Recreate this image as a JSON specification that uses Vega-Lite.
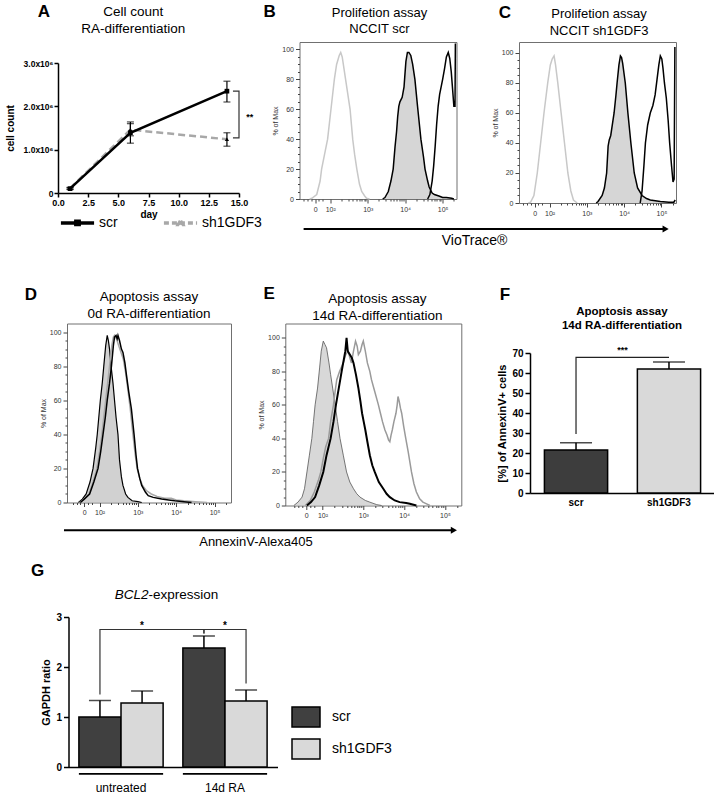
{
"$schema": "https://vega.github.io/schema/vega-lite/v6.json",
"padding": {"left": 0, "top": 2, "right": 0, "bottom": 0},
"config": {
  "font": "Liberation Sans",
  "view": {"stroke": null},
  "axis": {"grid": false, "domainColor": "black", "tickColor": "black", "labelColor": "black", "titleColor": "black"},
  "text": {"color": "black"}
},
"resolve": {"scale": {"color": "independent", "shape": "independent", "strokeDash": "independent"}},
"spacing": 12,
"vconcat": [
{
"resolve": {"scale": {"color": "independent", "shape": "independent", "strokeDash": "independent"}},
"spacing": 36.5,
"vconcat": [
{
"spacing": 4,
"hconcat": [
{"width": 1, "height": 1, "data": {"values": [{}]}, "mark": {"type": "rect", "opacity": 0}},
{
"spacing": 8.5,
"hconcat": [
{
"spacing": 2,
"vconcat": [
{
 "width": 181, "height": 15,
 "layer": [
  {"data": {"values": [{"label": "A", "day": -1.16, "hy": 3.0}]}, "mark": {"type": "text", "fontSize": 17, "fontWeight": "bold"},
   "encoding": {"x": {"field": "day", "type": "quantitative", "scale": {"domain": [0, 15], "nice": false}, "axis": null}, "y": {"field": "hy", "type": "quantitative", "scale": {"domain": [0, 1], "nice": false}, "axis": null}, "text": {"field": "label"}}},
  {"data": {"values": [{"label": "Cell count", "day": 6.24, "hy": 3.0}, {"label": "RA-differentiation", "day": 6.24, "hy": 1.867}]}, "mark": {"type": "text", "fontSize": 13.5},
   "encoding": {"x": {"field": "day", "type": "quantitative", "scale": {"domain": [0, 15], "nice": false}, "axis": null}, "y": {"field": "hy", "type": "quantitative", "scale": {"domain": [0, 1], "nice": false}, "axis": null}, "text": {"field": "label"}}}
 ]
},
{
 "width": 181, "height": 130,
 "data": {"values": [
  {"series": "scr", "day": 1, "count": 100000, "lo": 80000, "hi": 120000},
  {"series": "scr", "day": 6, "count": 1390000, "lo": 1150000, "hi": 1640000},
  {"series": "scr", "day": 14, "count": 2350000, "lo": 2100000, "hi": 2580000},
  {"series": "sh1GDF3", "day": 1, "count": 110000, "lo": 90000, "hi": 130000},
  {"series": "sh1GDF3", "day": 6, "count": 1460000, "lo": 1320000, "hi": 1600000},
  {"series": "sh1GDF3", "day": 14, "count": 1240000, "lo": 1080000, "hi": 1390000}
 ]},
 "encoding": {
  "x": {"field": "day", "type": "quantitative", "scale": {"domain": [0, 15], "nice": false},
        "axis": {"title": "day", "titleFontSize": 10, "titleFontWeight": "bold", "titlePadding": 2, "values": [0, 2.5, 5, 7.5, 10, 12.5, 15], "format": ".1f", "labelFontSize": 9, "labelFontWeight": "bold", "labelFlush": false, "domainWidth": 1.5, "tickWidth": 1.5, "tickSize": 4, "labelPadding": 1}},
  "y": {"field": "count", "type": "quantitative", "scale": {"domain": [0, 3000000], "nice": false},
        "axis": {"title": "cell count", "titleFontSize": 10, "titleFontWeight": "bold", "titlePadding": 8, "values": [0, 1000000, 2000000, 3000000], "labelExpr": "datum.value == 0 ? '0' : format(datum.value / 1000000, '.1f') + 'x10⁶'", "labelFontSize": 8.5, "labelFontWeight": "bold", "domainWidth": 1.5, "tickWidth": 1.5, "tickSize": 4, "labelPadding": 1}}
 },
 "layer": [
  {"transform": [{"filter": "datum.series == 'sh1GDF3'"}], "mark": {"type": "line", "color": "#a8a8a8", "strokeWidth": 2.5, "strokeDash": [7, 4]}},
  {"transform": [{"filter": "datum.series == 'scr'"}], "mark": {"type": "line", "color": "black", "strokeWidth": 2.5}},
  {"mark": {"type": "rule", "color": "black", "strokeWidth": 1.2}, "encoding": {"y": {"field": "lo", "type": "quantitative"}, "y2": {"field": "hi"}}},
  {"mark": {"type": "tick", "orient": "horizontal", "color": "black", "size": 7, "thickness": 1.2}, "encoding": {"y": {"field": "lo", "type": "quantitative"}}},
  {"mark": {"type": "tick", "orient": "horizontal", "color": "black", "size": 7, "thickness": 1.2}, "encoding": {"y": {"field": "hi", "type": "quantitative"}}},
  {"transform": [{"filter": "datum.series == 'scr'"}], "mark": {"type": "point", "shape": "square", "filled": true, "color": "black", "size": 22, "opacity": 1}},
  {"transform": [{"filter": "datum.series == 'sh1GDF3'"}], "mark": {"type": "point", "shape": "triangle-up", "filled": true, "color": "black", "size": 18, "opacity": 1}},
  {"mark": {"type": "point", "filled": false, "opacity": 0},
   "encoding": {
    "shape": {"field": "series", "type": "nominal", "scale": {"domain": ["scr", "sh1GDF3"], "range": ["M-1,0H1M-0.1,-0.1H0.1V0.1H-0.1Z", "M-1,0H1M0,-0.13L0.13,0.1H-0.13Z"]},
      "legend": {"title": null, "orient": "none", "legendX": 59, "legendY": 162, "direction": "horizontal", "columns": 2, "columnPadding": 38, "symbolSize": 1100, "symbolStrokeWidth": 3.5, "labelFontSize": 14, "labelOffset": 3, "symbolOpacity": 1, "symbolFillColor": "black", "encode": {"symbols": {"update": {"fill": {"value": "black"}, "opacity": {"value": 1}, "strokeWidth": {"value": 3.5}}}}}},
    "color": {"field": "series", "type": "nominal", "scale": {"domain": ["scr", "sh1GDF3"], "range": ["black", "#a8a8a8"]},
      "legend": {"title": null, "orient": "none", "legendX": 59, "legendY": 162, "direction": "horizontal", "columns": 2, "columnPadding": 38, "symbolSize": 1100, "symbolStrokeWidth": 3.5, "labelFontSize": 14, "labelOffset": 3, "symbolOpacity": 1, "symbolFillColor": "black", "encode": {"symbols": {"update": {"fill": {"value": "black"}, "opacity": {"value": 1}, "strokeWidth": {"value": 3.5}}}}}},
    "strokeDash": {"field": "series", "type": "nominal", "scale": {"domain": ["scr", "sh1GDF3"], "range": [[1, 0], [5, 3]]},
      "legend": {"title": null, "orient": "none", "legendX": 59, "legendY": 162, "direction": "horizontal", "columns": 2, "columnPadding": 38, "symbolSize": 1100, "symbolStrokeWidth": 3.5, "labelFontSize": 14, "labelOffset": 3, "symbolOpacity": 1, "symbolFillColor": "black", "encode": {"symbols": {"update": {"fill": {"value": "black"}, "opacity": {"value": 1}, "strokeWidth": {"value": 3.5}}}}}}
   }},
  {"data": {"values": [{"seg": 1, "day": 14.5, "count": 2350000}, {"seg": 2, "day": 15, "count": 2350000}, {"seg": 3, "day": 15, "count": 1270000}, {"seg": 4, "day": 14.5, "count": 1270000}]},
   "mark": {"type": "line", "color": "#333", "strokeWidth": 1.2}, "encoding": {"order": {"field": "seg"}}},
  {"data": {"values": [{"label": "**", "day": 15.6, "count": 1760000}]}, "mark": {"type": "text", "align": "left", "baseline": "middle", "fontSize": 9, "fontWeight": "bold"}, "encoding": {"text": {"field": "label"}}}
 ]
}
]
},
{
"spacing": 6,
"vconcat": [
{
"spacing": 30.5,
"hconcat": [
{
 "width": 157, "height": 157,
 "view": {"stroke": "#707070", "strokeWidth": 1},
 "data": {"values": [
  {"curve": "control", "fl": 1.45, "pct": 0}, {"curve": "control", "fl": 1.51, "pct": 0.5}, {"curve": "control", "fl": 1.64, "pct": 3}, {"curve": "control", "fl": 1.73, "pct": 12}, {"curve": "control", "fl": 1.77, "pct": 20}, {"curve": "control", "fl": 1.85, "pct": 30}, {"curve": "control", "fl": 1.93, "pct": 40}, {"curve": "control", "fl": 2.02, "pct": 60}, {"curve": "control", "fl": 2.11, "pct": 80}, {"curve": "control", "fl": 2.17, "pct": 90}, {"curve": "control", "fl": 2.24, "pct": 96}, {"curve": "control", "fl": 2.28, "pct": 98}, {"curve": "control", "fl": 2.32, "pct": 95}, {"curve": "control", "fl": 2.35, "pct": 90}, {"curve": "control", "fl": 2.41, "pct": 80}, {"curve": "control", "fl": 2.47, "pct": 70}, {"curve": "control", "fl": 2.53, "pct": 60}, {"curve": "control", "fl": 2.6, "pct": 40}, {"curve": "control", "fl": 2.65, "pct": 30}, {"curve": "control", "fl": 2.71, "pct": 20}, {"curve": "control", "fl": 2.78, "pct": 10}, {"curve": "control", "fl": 2.84, "pct": 5}, {"curve": "control", "fl": 2.92, "pct": 2}, {"curve": "control", "fl": 2.97, "pct": 0.5}, {"curve": "control", "fl": 3.05, "pct": 0},
  {"curve": "filled", "fl": 3.4, "pct": 0}, {"curve": "filled", "fl": 3.46, "pct": 1}, {"curve": "filled", "fl": 3.55, "pct": 5}, {"curve": "filled", "fl": 3.62, "pct": 12}, {"curve": "filled", "fl": 3.68, "pct": 20}, {"curve": "filled", "fl": 3.73, "pct": 35}, {"curve": "filled", "fl": 3.77, "pct": 45}, {"curve": "filled", "fl": 3.8, "pct": 55}, {"curve": "filled", "fl": 3.83, "pct": 62}, {"curve": "filled", "fl": 3.86, "pct": 65}, {"curve": "filled", "fl": 3.92, "pct": 68}, {"curve": "filled", "fl": 3.97, "pct": 75}, {"curve": "filled", "fl": 3.99, "pct": 82}, {"curve": "filled", "fl": 4.02, "pct": 92}, {"curve": "filled", "fl": 4.06, "pct": 98}, {"curve": "filled", "fl": 4.1, "pct": 98}, {"curve": "filled", "fl": 4.15, "pct": 96}, {"curve": "filled", "fl": 4.2, "pct": 90}, {"curve": "filled", "fl": 4.26, "pct": 80}, {"curve": "filled", "fl": 4.33, "pct": 62}, {"curve": "filled", "fl": 4.42, "pct": 40}, {"curve": "filled", "fl": 4.49, "pct": 28}, {"curve": "filled", "fl": 4.53, "pct": 20}, {"curve": "filled", "fl": 4.6, "pct": 12}, {"curve": "filled", "fl": 4.64, "pct": 8}, {"curve": "filled", "fl": 4.72, "pct": 4}, {"curve": "filled", "fl": 4.78, "pct": 3}, {"curve": "filled", "fl": 4.9, "pct": 2}, {"curve": "filled", "fl": 5.0, "pct": 1}, {"curve": "filled", "fl": 5.1, "pct": 1}, {"curve": "filled", "fl": 5.24, "pct": 0.5}, {"curve": "filled", "fl": 5.3, "pct": 0},
  {"curve": "open", "fl": 4.6, "pct": 0}, {"curve": "open", "fl": 4.66, "pct": 3}, {"curve": "open", "fl": 4.72, "pct": 12}, {"curve": "open", "fl": 4.76, "pct": 22}, {"curve": "open", "fl": 4.8, "pct": 35}, {"curve": "open", "fl": 4.84, "pct": 50}, {"curve": "open", "fl": 4.88, "pct": 62}, {"curve": "open", "fl": 4.92, "pct": 70}, {"curve": "open", "fl": 4.96, "pct": 75}, {"curve": "open", "fl": 5.0, "pct": 80}, {"curve": "open", "fl": 5.05, "pct": 87}, {"curve": "open", "fl": 5.1, "pct": 95}, {"curve": "open", "fl": 5.15, "pct": 98}, {"curve": "open", "fl": 5.19, "pct": 94}, {"curve": "open", "fl": 5.23, "pct": 85}, {"curve": "open", "fl": 5.27, "pct": 72}, {"curve": "open", "fl": 5.3, "pct": 62}, {"curve": "open", "fl": 5.33, "pct": 62}, {"curve": "open", "fl": 5.34, "pct": 104}
 ]},
 "encoding": {
  "x": {"field": "fl", "type": "quantitative", "scale": {"domain": [1.18, 5.37], "nice": false, "zero": false},
    "axis": {"title": null, "domain": false, "values": [1.3, 1.4, 1.5, 1.6, 1.7, 1.8, 2, 2.301, 2.477, 2.602, 2.699, 2.778, 2.845, 2.903, 2.954, 3, 3.301, 3.477, 3.602, 3.699, 3.778, 3.845, 3.903, 3.954, 4, 4.301, 4.477, 4.602, 4.699, 4.778, 4.845, 4.903, 4.954, 5, 5.301], "labelExpr": "datum.value == 1.6 ? '0' : datum.value == 2 ? '10²' : datum.value == 3 ? '10³' : datum.value == 4 ? '10⁴' : datum.value == 5 ? '10⁵' : ''", "tickSize": {"condition": {"test": "datum.value == 1.6 || datum.value == 2 || datum.value == 3 || datum.value == 4 || datum.value == 5", "value": 4}, "value": 2}, "labelFontSize": 7, "labelColor": "#333", "tickColor": "#444", "labelOverlap": false, "labelFlush": false, "labelBound": false, "labelPadding": 2}},
  "y": {"field": "pct", "type": "quantitative", "scale": {"domain": [0, 105], "nice": false},
    "axis": {"title": "% of Max", "titleFontSize": 7, "titleFontWeight": "normal", "titleColor": "#333", "titlePadding": 3, "domain": false, "values": [0, 5, 10, 15, 20, 25, 30, 35, 40, 45, 50, 55, 60, 65, 70, 75, 80, 85, 90, 95, 100], "labelExpr": "datum.value % 20 == 0 ? '' + datum.value : ''", "tickSize": {"condition": {"test": "datum.value % 20 == 0", "value": 4}, "value": 2}, "labelFontSize": 7, "labelColor": "#333", "tickColor": "#444", "labelOverlap": false, "labelPadding": 2}}
 },
 "layer": [
  {"transform": [{"filter": "datum.curve == 'filled'"}], "mark": {"type": "area", "color": "#c4c4c4", "line": {"color": "black", "strokeWidth": 1.5}}},
  {"transform": [{"filter": "datum.curve == 'control'"}], "mark": {"type": "line", "color": "#c8c8c8", "strokeWidth": 1.5}},
  {"transform": [{"filter": "datum.curve == 'open'"}], "mark": {"type": "line", "color": "black", "strokeWidth": 1.5}},
  {"data": {"values": [{"label": "B", "fl": 0.38, "pct": 125}]}, "mark": {"type": "text", "fontSize": 17, "fontWeight": "bold"}, "encoding": {"text": {"field": "label"}}},
  {"data": {"values": [{"label": "Prolifetion assay", "fl": 3.315, "pct": 124.4}, {"label": "NCCIT scr", "fl": 3.315, "pct": 113.7}]}, "mark": {"type": "text", "fontSize": 13}, "encoding": {"text": {"field": "label"}}}
 ]
},
{
 "width": 157, "height": 161,
 "view": {"stroke": "#707070", "strokeWidth": 1},
 "data": {"values": [
  {"curve": "control", "fl": 1.43, "pct": 0}, {"curve": "control", "fl": 1.49, "pct": 0.5}, {"curve": "control", "fl": 1.58, "pct": 5}, {"curve": "control", "fl": 1.67, "pct": 20}, {"curve": "control", "fl": 1.76, "pct": 40}, {"curve": "control", "fl": 1.85, "pct": 60}, {"curve": "control", "fl": 1.95, "pct": 80}, {"curve": "control", "fl": 2.02, "pct": 92}, {"curve": "control", "fl": 2.07, "pct": 96}, {"curve": "control", "fl": 2.12, "pct": 98}, {"curve": "control", "fl": 2.16, "pct": 92}, {"curve": "control", "fl": 2.22, "pct": 80}, {"curve": "control", "fl": 2.31, "pct": 60}, {"curve": "control", "fl": 2.4, "pct": 40}, {"curve": "control", "fl": 2.49, "pct": 20}, {"curve": "control", "fl": 2.57, "pct": 8}, {"curve": "control", "fl": 2.64, "pct": 2}, {"curve": "control", "fl": 2.74, "pct": 0},
  {"curve": "filled", "fl": 3.25, "pct": 0}, {"curve": "filled", "fl": 3.3, "pct": 1}, {"curve": "filled", "fl": 3.41, "pct": 5}, {"curve": "filled", "fl": 3.47, "pct": 10}, {"curve": "filled", "fl": 3.53, "pct": 20}, {"curve": "filled", "fl": 3.57, "pct": 38}, {"curve": "filled", "fl": 3.6, "pct": 42}, {"curve": "filled", "fl": 3.64, "pct": 45}, {"curve": "filled", "fl": 3.7, "pct": 55}, {"curve": "filled", "fl": 3.73, "pct": 60}, {"curve": "filled", "fl": 3.78, "pct": 72}, {"curve": "filled", "fl": 3.81, "pct": 80}, {"curve": "filled", "fl": 3.86, "pct": 92}, {"curve": "filled", "fl": 3.9, "pct": 98}, {"curve": "filled", "fl": 3.93, "pct": 97}, {"curve": "filled", "fl": 3.96, "pct": 93}, {"curve": "filled", "fl": 4.03, "pct": 80}, {"curve": "filled", "fl": 4.1, "pct": 60}, {"curve": "filled", "fl": 4.18, "pct": 40}, {"curve": "filled", "fl": 4.27, "pct": 20}, {"curve": "filled", "fl": 4.36, "pct": 10}, {"curve": "filled", "fl": 4.48, "pct": 5}, {"curve": "filled", "fl": 4.6, "pct": 3}, {"curve": "filled", "fl": 4.7, "pct": 2}, {"curve": "filled", "fl": 4.97, "pct": 1}, {"curve": "filled", "fl": 5.2, "pct": 0.5}, {"curve": "filled", "fl": 5.33, "pct": 0.5}, {"curve": "filled", "fl": 5.37, "pct": 2},
  {"curve": "open", "fl": 4.43, "pct": 0}, {"curve": "open", "fl": 4.48, "pct": 8}, {"curve": "open", "fl": 4.53, "pct": 25}, {"curve": "open", "fl": 4.57, "pct": 40}, {"curve": "open", "fl": 4.63, "pct": 52}, {"curve": "open", "fl": 4.7, "pct": 60}, {"curve": "open", "fl": 4.77, "pct": 65}, {"curve": "open", "fl": 4.83, "pct": 72}, {"curve": "open", "fl": 4.88, "pct": 82}, {"curve": "open", "fl": 4.93, "pct": 92}, {"curve": "open", "fl": 4.97, "pct": 98}, {"curve": "open", "fl": 5.01, "pct": 96}, {"curve": "open", "fl": 5.04, "pct": 90}, {"curve": "open", "fl": 5.08, "pct": 80}, {"curve": "open", "fl": 5.13, "pct": 70}, {"curve": "open", "fl": 5.18, "pct": 55}, {"curve": "open", "fl": 5.22, "pct": 40}, {"curve": "open", "fl": 5.27, "pct": 25}, {"curve": "open", "fl": 5.31, "pct": 14}, {"curve": "open", "fl": 5.34, "pct": 16}, {"curve": "open", "fl": 5.36, "pct": 104}
 ]},
 "encoding": {
  "x": {"field": "fl", "type": "quantitative", "scale": {"domain": [1.18, 5.39], "nice": false, "zero": false},
    "axis": {"title": null, "domain": false, "values": [1.3, 1.4, 1.5, 1.6, 1.7, 1.8, 2, 2.301, 2.477, 2.602, 2.699, 2.778, 2.845, 2.903, 2.954, 3, 3.301, 3.477, 3.602, 3.699, 3.778, 3.845, 3.903, 3.954, 4, 4.301, 4.477, 4.602, 4.699, 4.778, 4.845, 4.903, 4.954, 5, 5.301], "labelExpr": "datum.value == 1.6 ? '0' : datum.value == 2 ? '10²' : datum.value == 3 ? '10³' : datum.value == 4 ? '10⁴' : datum.value == 5 ? '10⁵' : ''", "tickSize": {"condition": {"test": "datum.value == 1.6 || datum.value == 2 || datum.value == 3 || datum.value == 4 || datum.value == 5", "value": 4}, "value": 2}, "labelFontSize": 7, "labelColor": "#333", "tickColor": "#444", "labelOverlap": false, "labelFlush": false, "labelBound": false, "labelPadding": 2}},
  "y": {"field": "pct", "type": "quantitative", "scale": {"domain": [0, 107.3], "nice": false},
    "axis": {"title": "% of Max", "titleFontSize": 7, "titleFontWeight": "normal", "titleColor": "#333", "titlePadding": 3, "domain": false, "values": [0, 5, 10, 15, 20, 25, 30, 35, 40, 45, 50, 55, 60, 65, 70, 75, 80, 85, 90, 95, 100], "labelExpr": "datum.value % 20 == 0 ? '' + datum.value : ''", "tickSize": {"condition": {"test": "datum.value % 20 == 0", "value": 4}, "value": 2}, "labelFontSize": 7, "labelColor": "#333", "tickColor": "#444", "labelOverlap": false, "labelPadding": 2}}
 },
 "layer": [
  {"transform": [{"filter": "datum.curve == 'filled'"}], "mark": {"type": "area", "color": "#c4c4c4", "line": {"color": "black", "strokeWidth": 1.5}}},
  {"transform": [{"filter": "datum.curve == 'control'"}], "mark": {"type": "line", "color": "#c8c8c8", "strokeWidth": 1.5}},
  {"transform": [{"filter": "datum.curve == 'open'"}], "mark": {"type": "line", "color": "black", "strokeWidth": 1.5}},
  {"data": {"values": [{"label": "C", "fl": 0.805, "pct": 126.3}]}, "mark": {"type": "text", "fontSize": 17, "fontWeight": "bold"}, "encoding": {"text": {"field": "label"}}},
  {"data": {"values": [{"label": "Prolifetion assay", "fl": 3.325, "pct": 126}, {"label": "NCCIT sh1GDF3", "fl": 3.325, "pct": 114.7}]}, "mark": {"type": "text", "fontSize": 13}, "encoding": {"text": {"field": "label"}}}
 ]
}
]
},
{
 "width": 374, "height": 20,
 "data": {"values": [{}]},
 "layer": [
  {"mark": {"type": "rule", "color": "black", "strokeWidth": 2}, "encoding": {"x": {"datum": 0.011, "type": "quantitative", "scale": {"domain": [0, 1]}, "axis": null}, "x2": {"datum": 0.979}, "y": {"datum": 0.7, "type": "quantitative", "scale": {"domain": [0, 1]}, "axis": null}}},
  {"mark": {"type": "point", "shape": "triangle-right", "filled": true, "color": "black", "size": 50, "opacity": 1}, "encoding": {"x": {"datum": 0.979, "type": "quantitative", "scale": {"domain": [0, 1]}, "axis": null}, "y": {"datum": 0.7, "type": "quantitative", "scale": {"domain": [0, 1]}, "axis": null}}},
  {"mark": {"type": "text", "text": "VioTrace®", "fontSize": 14}, "encoding": {"x": {"datum": 0.468, "type": "quantitative", "scale": {"domain": [0, 1]}, "axis": null}, "y": {"datum": 0.1, "type": "quantitative", "scale": {"domain": [0, 1]}, "axis": null}}}
 ]
}
]
}
]
}
]
},
{
"spacing": 23,
"hconcat": [
{"width": 1, "height": 1, "data": {"values": [{}]}, "mark": {"type": "rect", "opacity": 0}},
{
"spacing": 34,
"hconcat": [
{
"spacing": 4.7,
"vconcat": [
{
"spacing": 24.3,
"hconcat": [
{
 "width": 164, "height": 179,
 "view": {"stroke": "#707070", "strokeWidth": 1},
 "data": {"values": [
  {"curve": "filled", "fl": 1.45, "pct": 0}, {"curve": "filled", "fl": 1.55, "pct": 2}, {"curve": "filled", "fl": 1.65, "pct": 5}, {"curve": "filled", "fl": 1.75, "pct": 12}, {"curve": "filled", "fl": 1.83, "pct": 20}, {"curve": "filled", "fl": 1.9, "pct": 32}, {"curve": "filled", "fl": 1.94, "pct": 40}, {"curve": "filled", "fl": 2.02, "pct": 60}, {"curve": "filled", "fl": 2.07, "pct": 70}, {"curve": "filled", "fl": 2.11, "pct": 80}, {"curve": "filled", "fl": 2.16, "pct": 92}, {"curve": "filled", "fl": 2.2, "pct": 98}, {"curve": "filled", "fl": 2.23, "pct": 95}, {"curve": "filled", "fl": 2.26, "pct": 90}, {"curve": "filled", "fl": 2.3, "pct": 80}, {"curve": "filled", "fl": 2.35, "pct": 70}, {"curve": "filled", "fl": 2.39, "pct": 60}, {"curve": "filled", "fl": 2.43, "pct": 50}, {"curve": "filled", "fl": 2.48, "pct": 40}, {"curve": "filled", "fl": 2.52, "pct": 25}, {"curve": "filled", "fl": 2.57, "pct": 15}, {"curve": "filled", "fl": 2.61, "pct": 10}, {"curve": "filled", "fl": 2.68, "pct": 5}, {"curve": "filled", "fl": 2.74, "pct": 3}, {"curve": "filled", "fl": 2.85, "pct": 1}, {"curve": "filled", "fl": 3.0, "pct": 0.5}, {"curve": "filled", "fl": 3.1, "pct": 0},
  {"curve": "black", "fl": 1.5, "pct": 0}, {"curve": "black", "fl": 1.6, "pct": 2}, {"curve": "black", "fl": 1.74, "pct": 5}, {"curve": "black", "fl": 1.85, "pct": 12}, {"curve": "black", "fl": 1.96, "pct": 20}, {"curve": "black", "fl": 2.03, "pct": 30}, {"curve": "black", "fl": 2.09, "pct": 40}, {"curve": "black", "fl": 2.15, "pct": 50}, {"curve": "black", "fl": 2.2, "pct": 60}, {"curve": "black", "fl": 2.26, "pct": 70}, {"curve": "black", "fl": 2.31, "pct": 80}, {"curve": "black", "fl": 2.36, "pct": 92}, {"curve": "black", "fl": 2.39, "pct": 97}, {"curve": "black", "fl": 2.43, "pct": 98}, {"curve": "black", "fl": 2.46, "pct": 96}, {"curve": "black", "fl": 2.48, "pct": 98}, {"curve": "black", "fl": 2.52, "pct": 95}, {"curve": "black", "fl": 2.57, "pct": 90}, {"curve": "black", "fl": 2.61, "pct": 88}, {"curve": "black", "fl": 2.66, "pct": 82}, {"curve": "black", "fl": 2.7, "pct": 75}, {"curve": "black", "fl": 2.76, "pct": 65}, {"curve": "black", "fl": 2.83, "pct": 55}, {"curve": "black", "fl": 2.9, "pct": 40}, {"curve": "black", "fl": 2.95, "pct": 28}, {"curve": "black", "fl": 2.99, "pct": 20}, {"curve": "black", "fl": 3.05, "pct": 14}, {"curve": "black", "fl": 3.1, "pct": 10}, {"curve": "black", "fl": 3.2, "pct": 6}, {"curve": "black", "fl": 3.27, "pct": 4}, {"curve": "black", "fl": 3.4, "pct": 3}, {"curve": "black", "fl": 3.62, "pct": 2}, {"curve": "black", "fl": 3.8, "pct": 1.5}, {"curve": "black", "fl": 3.96, "pct": 1}, {"curve": "black", "fl": 4.2, "pct": 0.5}, {"curve": "black", "fl": 4.4, "pct": 0},
  {"curve": "gray", "fl": 1.48, "pct": 0}, {"curve": "gray", "fl": 1.6, "pct": 2}, {"curve": "gray", "fl": 1.72, "pct": 5}, {"curve": "gray", "fl": 1.83, "pct": 12}, {"curve": "gray", "fl": 1.93, "pct": 20}, {"curve": "gray", "fl": 2.0, "pct": 30}, {"curve": "gray", "fl": 2.06, "pct": 40}, {"curve": "gray", "fl": 2.12, "pct": 52}, {"curve": "gray", "fl": 2.17, "pct": 62}, {"curve": "gray", "fl": 2.22, "pct": 72}, {"curve": "gray", "fl": 2.27, "pct": 82}, {"curve": "gray", "fl": 2.32, "pct": 92}, {"curve": "gray", "fl": 2.36, "pct": 97}, {"curve": "gray", "fl": 2.39, "pct": 98}, {"curve": "gray", "fl": 2.44, "pct": 96}, {"curve": "gray", "fl": 2.5, "pct": 92}, {"curve": "gray", "fl": 2.56, "pct": 88}, {"curve": "gray", "fl": 2.62, "pct": 84}, {"curve": "gray", "fl": 2.68, "pct": 76}, {"curve": "gray", "fl": 2.74, "pct": 66}, {"curve": "gray", "fl": 2.8, "pct": 55}, {"curve": "gray", "fl": 2.87, "pct": 40}, {"curve": "gray", "fl": 2.93, "pct": 28}, {"curve": "gray", "fl": 2.98, "pct": 20}, {"curve": "gray", "fl": 3.05, "pct": 14}, {"curve": "gray", "fl": 3.12, "pct": 10}, {"curve": "gray", "fl": 3.22, "pct": 7}, {"curve": "gray", "fl": 3.35, "pct": 5}, {"curve": "gray", "fl": 3.5, "pct": 3.5}, {"curve": "gray", "fl": 3.7, "pct": 2.5}, {"curve": "gray", "fl": 3.87, "pct": 2.5}, {"curve": "gray", "fl": 4.0, "pct": 1.5}, {"curve": "gray", "fl": 4.2, "pct": 1}, {"curve": "gray", "fl": 4.5, "pct": 0.5}, {"curve": "gray", "fl": 4.8, "pct": 0}
 ]},
 "encoding": {
  "x": {"field": "fl", "type": "quantitative", "scale": {"domain": [1.15, 5.43], "nice": false, "zero": false},
    "axis": {"title": null, "domain": false, "values": [1.3, 1.4, 1.5, 1.6, 1.7, 1.8, 2, 2.301, 2.477, 2.602, 2.699, 2.778, 2.845, 2.903, 2.954, 3, 3.301, 3.477, 3.602, 3.699, 3.778, 3.845, 3.903, 3.954, 4, 4.301, 4.477, 4.602, 4.699, 4.778, 4.845, 4.903, 4.954, 5, 5.301], "labelExpr": "datum.value == 1.6 ? '0' : datum.value == 2 ? '10²' : datum.value == 3 ? '10³' : datum.value == 4 ? '10⁴' : datum.value == 5 ? '10⁵' : ''", "tickSize": {"condition": {"test": "datum.value == 1.6 || datum.value == 2 || datum.value == 3 || datum.value == 4 || datum.value == 5", "value": 4}, "value": 2}, "labelFontSize": 7, "labelColor": "#333", "tickColor": "#444", "labelOverlap": false, "labelFlush": false, "labelBound": false, "labelPadding": 2}},
  "y": {"field": "pct", "type": "quantitative", "scale": {"domain": [0, 105], "nice": false},
    "axis": {"title": "% of Max", "titleFontSize": 7, "titleFontWeight": "normal", "titleColor": "#333", "titlePadding": 3, "domain": false, "values": [0, 5, 10, 15, 20, 25, 30, 35, 40, 45, 50, 55, 60, 65, 70, 75, 80, 85, 90, 95, 100], "labelExpr": "datum.value % 20 == 0 ? '' + datum.value : ''", "tickSize": {"condition": {"test": "datum.value % 20 == 0", "value": 4}, "value": 2}, "labelFontSize": 7, "labelColor": "#333", "tickColor": "#444", "labelOverlap": false, "labelPadding": 2}}
 },
 "layer": [
  {"transform": [{"filter": "datum.curve == 'filled'"}], "mark": {"type": "area", "color": "#bebebe", "line": {"color": "black", "strokeWidth": 1.2}}},
  {"transform": [{"filter": "datum.curve == 'gray'"}], "mark": {"type": "line", "color": "#a8a8a8", "strokeWidth": 1.5}},
  {"transform": [{"filter": "datum.curve == 'black'"}], "mark": {"type": "line", "color": "black", "strokeWidth": 1.5}},
  {"data": {"values": [{"label": "D", "fl": 0.21, "pct": 121.9}]}, "mark": {"type": "text", "fontSize": 17, "fontWeight": "bold"}, "encoding": {"text": {"field": "label"}}},
  {"data": {"values": [{"label": "Apoptosis assay", "fl": 3.29, "pct": 120.7}, {"label": "0d RA-differentiation", "fl": 3.29, "pct": 110.7}]}, "mark": {"type": "text", "fontSize": 13.5}, "encoding": {"text": {"field": "label"}}}
 ]
},
{
 "width": 176, "height": 182,
 "view": {"stroke": "#707070", "strokeWidth": 1},
 "data": {"values": [
  {"curve": "filled", "fl": 1.3, "pct": 0}, {"curve": "filled", "fl": 1.4, "pct": 2}, {"curve": "filled", "fl": 1.5, "pct": 5}, {"curve": "filled", "fl": 1.56, "pct": 10}, {"curve": "filled", "fl": 1.62, "pct": 20}, {"curve": "filled", "fl": 1.68, "pct": 30}, {"curve": "filled", "fl": 1.74, "pct": 40}, {"curve": "filled", "fl": 1.78, "pct": 50}, {"curve": "filled", "fl": 1.82, "pct": 60}, {"curve": "filled", "fl": 1.88, "pct": 70}, {"curve": "filled", "fl": 1.93, "pct": 82}, {"curve": "filled", "fl": 1.97, "pct": 92}, {"curve": "filled", "fl": 2.02, "pct": 98}, {"curve": "filled", "fl": 2.06, "pct": 96}, {"curve": "filled", "fl": 2.1, "pct": 94}, {"curve": "filled", "fl": 2.16, "pct": 85}, {"curve": "filled", "fl": 2.2, "pct": 78}, {"curve": "filled", "fl": 2.25, "pct": 70}, {"curve": "filled", "fl": 2.31, "pct": 60}, {"curve": "filled", "fl": 2.37, "pct": 50}, {"curve": "filled", "fl": 2.43, "pct": 40}, {"curve": "filled", "fl": 2.51, "pct": 30}, {"curve": "filled", "fl": 2.59, "pct": 20}, {"curve": "filled", "fl": 2.67, "pct": 14}, {"curve": "filled", "fl": 2.76, "pct": 10}, {"curve": "filled", "fl": 2.84, "pct": 7}, {"curve": "filled", "fl": 2.92, "pct": 5}, {"curve": "filled", "fl": 3.05, "pct": 3}, {"curve": "filled", "fl": 3.16, "pct": 2}, {"curve": "filled", "fl": 3.33, "pct": 0.5}, {"curve": "filled", "fl": 3.45, "pct": 0},
  {"curve": "black", "fl": 1.62, "pct": 0}, {"curve": "black", "fl": 1.72, "pct": 2}, {"curve": "black", "fl": 1.82, "pct": 5}, {"curve": "black", "fl": 1.92, "pct": 12}, {"curve": "black", "fl": 2.02, "pct": 20}, {"curve": "black", "fl": 2.1, "pct": 30}, {"curve": "black", "fl": 2.2, "pct": 40}, {"curve": "black", "fl": 2.27, "pct": 50}, {"curve": "black", "fl": 2.33, "pct": 60}, {"curve": "black", "fl": 2.4, "pct": 70}, {"curve": "black", "fl": 2.47, "pct": 80}, {"curve": "black", "fl": 2.53, "pct": 88}, {"curve": "black", "fl": 2.56, "pct": 92}, {"curve": "black", "fl": 2.59, "pct": 100}, {"curve": "black", "fl": 2.62, "pct": 92}, {"curve": "black", "fl": 2.67, "pct": 90}, {"curve": "black", "fl": 2.72, "pct": 88}, {"curve": "black", "fl": 2.76, "pct": 85}, {"curve": "black", "fl": 2.82, "pct": 78}, {"curve": "black", "fl": 2.88, "pct": 70}, {"curve": "black", "fl": 2.93, "pct": 62}, {"curve": "black", "fl": 2.97, "pct": 55}, {"curve": "black", "fl": 3.01, "pct": 50}, {"curve": "black", "fl": 3.05, "pct": 45}, {"curve": "black", "fl": 3.1, "pct": 38}, {"curve": "black", "fl": 3.16, "pct": 30}, {"curve": "black", "fl": 3.22, "pct": 24}, {"curve": "black", "fl": 3.28, "pct": 20}, {"curve": "black", "fl": 3.38, "pct": 14}, {"curve": "black", "fl": 3.49, "pct": 10}, {"curve": "black", "fl": 3.57, "pct": 7}, {"curve": "black", "fl": 3.65, "pct": 5}, {"curve": "black", "fl": 3.77, "pct": 3}, {"curve": "black", "fl": 3.89, "pct": 2}, {"curve": "black", "fl": 4.05, "pct": 1.5}, {"curve": "black", "fl": 4.14, "pct": 1}, {"curve": "black", "fl": 4.3, "pct": 0},
  {"curve": "gray", "fl": 1.58, "pct": 0}, {"curve": "gray", "fl": 1.7, "pct": 3}, {"curve": "gray", "fl": 1.8, "pct": 8}, {"curve": "gray", "fl": 1.9, "pct": 15}, {"curve": "gray", "fl": 1.96, "pct": 20}, {"curve": "gray", "fl": 2.02, "pct": 28}, {"curve": "gray", "fl": 2.08, "pct": 35}, {"curve": "gray", "fl": 2.15, "pct": 40}, {"curve": "gray", "fl": 2.2, "pct": 50}, {"curve": "gray", "fl": 2.27, "pct": 60}, {"curve": "gray", "fl": 2.31, "pct": 68}, {"curve": "gray", "fl": 2.35, "pct": 75}, {"curve": "gray", "fl": 2.42, "pct": 80}, {"curve": "gray", "fl": 2.51, "pct": 85}, {"curve": "gray", "fl": 2.57, "pct": 90}, {"curve": "gray", "fl": 2.63, "pct": 92}, {"curve": "gray", "fl": 2.67, "pct": 88}, {"curve": "gray", "fl": 2.71, "pct": 85}, {"curve": "gray", "fl": 2.76, "pct": 92}, {"curve": "gray", "fl": 2.81, "pct": 98}, {"curve": "gray", "fl": 2.85, "pct": 95}, {"curve": "gray", "fl": 2.88, "pct": 90}, {"curve": "gray", "fl": 2.93, "pct": 92}, {"curve": "gray", "fl": 2.97, "pct": 96}, {"curve": "gray", "fl": 3.0, "pct": 98}, {"curve": "gray", "fl": 3.05, "pct": 92}, {"curve": "gray", "fl": 3.1, "pct": 85}, {"curve": "gray", "fl": 3.16, "pct": 80}, {"curve": "gray", "fl": 3.2, "pct": 75}, {"curve": "gray", "fl": 3.28, "pct": 68}, {"curve": "gray", "fl": 3.37, "pct": 60}, {"curve": "gray", "fl": 3.42, "pct": 55}, {"curve": "gray", "fl": 3.47, "pct": 50}, {"curve": "gray", "fl": 3.53, "pct": 45}, {"curve": "gray", "fl": 3.58, "pct": 42}, {"curve": "gray", "fl": 3.62, "pct": 39}, {"curve": "gray", "fl": 3.65, "pct": 38}, {"curve": "gray", "fl": 3.68, "pct": 42}, {"curve": "gray", "fl": 3.71, "pct": 45}, {"curve": "gray", "fl": 3.75, "pct": 50}, {"curve": "gray", "fl": 3.8, "pct": 55}, {"curve": "gray", "fl": 3.83, "pct": 60}, {"curve": "gray", "fl": 3.85, "pct": 65}, {"curve": "gray", "fl": 3.88, "pct": 62}, {"curve": "gray", "fl": 3.91, "pct": 58}, {"curve": "gray", "fl": 3.94, "pct": 55}, {"curve": "gray", "fl": 3.99, "pct": 47}, {"curve": "gray", "fl": 4.04, "pct": 40}, {"curve": "gray", "fl": 4.1, "pct": 32}, {"curve": "gray", "fl": 4.18, "pct": 20}, {"curve": "gray", "fl": 4.24, "pct": 13}, {"curve": "gray", "fl": 4.3, "pct": 8}, {"curve": "gray", "fl": 4.38, "pct": 4}, {"curve": "gray", "fl": 4.46, "pct": 2}, {"curve": "gray", "fl": 4.55, "pct": 1}, {"curve": "gray", "fl": 4.63, "pct": 0}
 ]},
 "encoding": {
  "x": {"field": "fl", "type": "quantitative", "scale": {"domain": [1.09, 5.4], "nice": false, "zero": false},
    "axis": {"title": null, "domain": false, "values": [1.3, 1.4, 1.5, 1.6, 1.7, 1.8, 2, 2.301, 2.477, 2.602, 2.699, 2.778, 2.845, 2.903, 2.954, 3, 3.301, 3.477, 3.602, 3.699, 3.778, 3.845, 3.903, 3.954, 4, 4.301, 4.477, 4.602, 4.699, 4.778, 4.845, 4.903, 4.954, 5, 5.301], "labelExpr": "datum.value == 1.6 ? '0' : datum.value == 2 ? '10²' : datum.value == 3 ? '10³' : datum.value == 4 ? '10⁴' : datum.value == 5 ? '10⁵' : ''", "tickSize": {"condition": {"test": "datum.value == 1.6 || datum.value == 2 || datum.value == 3 || datum.value == 4 || datum.value == 5", "value": 4}, "value": 2}, "labelFontSize": 7, "labelColor": "#333", "tickColor": "#444", "labelOverlap": false, "labelFlush": false, "labelBound": false, "labelPadding": 2}},
  "y": {"field": "pct", "type": "quantitative", "scale": {"domain": [0, 108.5], "nice": false},
    "axis": {"title": "% of Max", "titleFontSize": 7, "titleFontWeight": "normal", "titleColor": "#333", "titlePadding": 3, "domain": false, "values": [0, 5, 10, 15, 20, 25, 30, 35, 40, 45, 50, 55, 60, 65, 70, 75, 80, 85, 90, 95, 100], "labelExpr": "datum.value % 20 == 0 ? '' + datum.value : ''", "tickSize": {"condition": {"test": "datum.value % 20 == 0", "value": 4}, "value": 2}, "labelFontSize": 7, "labelColor": "#333", "tickColor": "#444", "labelOverlap": false, "labelPadding": 2}}
 },
 "layer": [
  {"transform": [{"filter": "datum.curve == 'filled'"}], "mark": {"type": "area", "color": "#c8c8c8", "line": {"color": "#555", "strokeWidth": 0.8}}},
  {"transform": [{"filter": "datum.curve == 'gray'"}], "mark": {"type": "line", "color": "#9a9a9a", "strokeWidth": 1.5}},
  {"transform": [{"filter": "datum.curve == 'black'"}], "mark": {"type": "line", "color": "black", "strokeWidth": 2}},
  {"data": {"values": [{"label": "E", "fl": 0.698, "pct": 125.8}]}, "mark": {"type": "text", "fontSize": 17, "fontWeight": "bold"}, "encoding": {"text": {"field": "label"}}},
  {"data": {"values": [{"label": "Apoptosis assay", "fl": 3.345, "pct": 123.4}, {"label": "14d RA-differentiation", "fl": 3.345, "pct": 112.7}]}, "mark": {"type": "text", "fontSize": 13.5}, "encoding": {"text": {"field": "label"}}}
 ]
}
]
},
{
 "width": 392, "height": 20,
 "data": {"values": [{}]},
 "layer": [
  {"mark": {"type": "rule", "color": "black", "strokeWidth": 2}, "encoding": {"x": {"datum": -0.0077, "type": "quantitative", "scale": {"domain": [0, 1]}, "axis": null}, "x2": {"datum": 0.987}, "y": {"datum": 0.7, "type": "quantitative", "scale": {"domain": [0, 1]}, "axis": null}}},
  {"mark": {"type": "point", "shape": "triangle-right", "filled": true, "color": "black", "size": 50, "opacity": 1}, "encoding": {"x": {"datum": 0.987, "type": "quantitative", "scale": {"domain": [0, 1]}, "axis": null}, "y": {"datum": 0.7, "type": "quantitative", "scale": {"domain": [0, 1]}, "axis": null}}},
  {"mark": {"type": "text", "text": "AnnexinV-Alexa405", "fontSize": 13}, "encoding": {"x": {"datum": 0.482, "type": "quantitative", "scale": {"domain": [0, 1]}, "axis": null}, "y": {"datum": 0.1, "type": "quantitative", "scale": {"domain": [0, 1]}, "axis": null}}}
 ]
}
]
},
{
"spacing": 2.5,
"vconcat": [
{
 "width": 185, "height": 20,
 "layer": [
  {"data": {"values": [{"label": "F", "hx": -0.135, "hy": 2.45}]}, "mark": {"type": "text", "fontSize": 17, "fontWeight": "bold"},
   "encoding": {"x": {"field": "hx", "type": "quantitative", "scale": {"domain": [0, 1], "nice": false}, "axis": null}, "y": {"field": "hy", "type": "quantitative", "scale": {"domain": [0, 1], "nice": false}, "axis": null}, "text": {"field": "label"}}},
  {"data": {"values": [{"label": "Apoptosis assay", "hx": 0.497, "hy": 1.6}, {"label": "14d RA-differentiation", "hx": 0.497, "hy": 0.9}]}, "mark": {"type": "text", "fontSize": 11.5, "fontWeight": "bold"},
   "encoding": {"x": {"field": "hx", "type": "quantitative", "scale": {"domain": [0, 1], "nice": false}, "axis": null}, "y": {"field": "hy", "type": "quantitative", "scale": {"domain": [0, 1], "nice": false}, "axis": null}, "text": {"field": "label"}}}
 ]
},
{
 "width": 185, "height": 140,
 "data": {"values": [{"group": "scr", "pct": 21.5, "upper": 25.1}, {"group": "sh1GDF3", "pct": 62, "upper": 65.5}]},
 "encoding": {
  "x": {"field": "group", "type": "nominal", "scale": {"domain": ["scr", "sh1GDF3"], "paddingInner": 0.32, "paddingOuter": 0.155},
        "axis": {"title": null, "labelAngle": 0, "labelFontSize": 10, "labelFontWeight": "bold", "ticks": false, "domainWidth": 1.5, "labelPadding": 4}},
  "y": {"field": "pct", "type": "quantitative", "scale": {"domain": [0, 70], "nice": false},
        "axis": {"title": "[%] of AnnexinV+ cells", "titleFontSize": 11, "titleFontWeight": "bold", "titlePadding": 4, "values": [0, 10, 20, 30, 40, 50, 60, 70], "labelFontSize": 10, "labelFontWeight": "bold", "domainWidth": 1.5, "tickWidth": 1.5, "tickSize": 5, "labelPadding": 2}}
 },
 "layer": [
  {"mark": {"type": "rule", "color": "black", "strokeWidth": 1.5}, "encoding": {"y2": {"field": "upper"}}},
  {"mark": {"type": "tick", "orient": "horizontal", "color": "black", "size": 32, "thickness": 1.5}, "encoding": {"y": {"field": "upper", "type": "quantitative"}}},
  {"mark": {"type": "bar", "stroke": "black", "strokeWidth": 1.5}, "encoding": {"color": {"field": "group", "type": "nominal", "scale": {"domain": ["scr", "sh1GDF3"], "range": ["#3d3d3d", "#d9d9d9"]}, "legend": null}}},
  {"data": {"values": [{"seg": 1, "group": "scr", "pct": 29.5}, {"seg": 2, "group": "scr", "pct": 67.8}, {"seg": 3, "group": "sh1GDF3", "pct": 67.8}]}, "mark": {"type": "line", "color": "#222", "strokeWidth": 1.2}, "encoding": {"order": {"field": "seg"}}},
  {"data": {"values": [{"label": "***", "group": "scr", "pct": 71.5}]}, "mark": {"type": "text", "dx": 46.5, "fontSize": 9, "fontWeight": "bold"}, "encoding": {"text": {"field": "label"}}}
 ]
}
]
}
]
}
]
}
]
},
{
"spacing": 29.5,
"hconcat": [
{"width": 1, "height": 1, "data": {"values": [{}]}, "mark": {"type": "rect", "opacity": 0}},
{
 "width": 209, "height": 150,
 "data": {"values": [
  {"treat": "untreated", "series": "scr", "ratio": 1.0, "upper": 1.33},
  {"treat": "untreated", "series": "sh1GDF3", "ratio": 1.28, "upper": 1.52},
  {"treat": "14d RA", "series": "scr", "ratio": 2.38, "upper": 2.62},
  {"treat": "14d RA", "series": "sh1GDF3", "ratio": 1.32, "upper": 1.54}
 ]},
 "layer": [
  {"mark": {"type": "rule", "color": "black", "strokeWidth": 1.5},
   "encoding": {
    "x": {"field": "treat", "type": "nominal", "scale": {"domain": ["untreated", "14d RA"], "paddingInner": 0.19, "paddingOuter": 0.1}, "axis": {"title": null, "labelAngle": 0, "labelFontSize": 12, "labelPadding": 15, "ticks": false, "domainWidth": 1.5}},
    "xOffset": {"field": "series", "type": "nominal", "scale": {"domain": ["scr", "sh1GDF3"], "paddingInner": 0, "paddingOuter": 0}},
    "y": {"field": "ratio", "type": "quantitative", "scale": {"domain": [0, 3], "nice": false}, "axis": {"title": "GAPDH ratio", "titleFontSize": 11, "titleFontWeight": "bold", "titlePadding": 4, "values": [0, 1, 2, 3], "labelFontSize": 10, "labelFontWeight": "bold", "domainWidth": 1.5, "tickWidth": 1.5, "tickSize": 5, "labelPadding": 2}},
    "y2": {"field": "upper"}}},
  {"mark": {"type": "tick", "orient": "horizontal", "color": "black", "size": 22, "thickness": 1.5},
   "encoding": {
    "x": {"field": "treat", "type": "nominal"},
    "xOffset": {"field": "series", "type": "nominal"},
    "y": {"field": "upper", "type": "quantitative"}}},
  {"mark": {"type": "bar", "stroke": "black", "strokeWidth": 1.5},
   "encoding": {
    "x": {"field": "treat", "type": "nominal"},
    "xOffset": {"field": "series", "type": "nominal"},
    "y": {"field": "ratio", "type": "quantitative"},
    "color": {"field": "series", "type": "nominal", "scale": {"domain": ["scr", "sh1GDF3"], "range": ["#404040", "#d9d9d9"]},
      "legend": {"title": null, "orient": "none", "legendX": 291, "legendY": 85, "direction": "vertical", "symbolType": "M-1,-0.72H1V0.72H-1Z", "symbolSize": 784, "symbolStrokeColor": "black", "symbolStrokeWidth": 1.5, "labelFontSize": 14, "labelOffset": 11, "rowPadding": 3, "encode": {"symbols": {"update": {"stroke": {"value": "black"}, "strokeWidth": {"value": 1.5}}}}}}}},
  {"data": {"values": [{"treat": "untreated"}, {"treat": "14d RA"}]}, "mark": {"type": "bar", "color": "black"},
   "encoding": {"x": {"field": "treat", "type": "nominal"}, "y": {"datum": -0.12}, "y2": {"datum": -0.155}}},
  {"data": {"values": [
    {"br": 1, "seg": 1, "treat": "untreated", "series": "scr", "ratio": 1.45},
    {"br": 1, "seg": 2, "treat": "untreated", "series": "scr", "ratio": 2.75},
    {"br": 1, "seg": 3, "treat": "14d RA", "series": "scr", "ratio": 2.75},
    {"br": 1, "seg": 4, "treat": "14d RA", "series": "scr", "ratio": 2.67},
    {"br": 2, "seg": 1, "treat": "14d RA", "series": "scr", "ratio": 2.67},
    {"br": 2, "seg": 2, "treat": "14d RA", "series": "scr", "ratio": 2.75},
    {"br": 2, "seg": 3, "treat": "14d RA", "series": "sh1GDF3", "ratio": 2.75},
    {"br": 2, "seg": 4, "treat": "14d RA", "series": "sh1GDF3", "ratio": 1.67}]},
   "mark": {"type": "line", "color": "#333", "strokeWidth": 1.2},
   "encoding": {"x": {"field": "treat", "type": "nominal"}, "xOffset": {"field": "series", "type": "nominal"}, "y": {"field": "ratio", "type": "quantitative"}, "detail": {"field": "br"}, "order": {"field": "seg"}}},
  {"data": {"values": [{"label": "*", "treat": "untreated", "series": "sh1GDF3", "ratio": 2.83}]}, "mark": {"type": "text", "fontSize": 10, "fontWeight": "bold"},
   "encoding": {"x": {"field": "treat", "type": "nominal"}, "xOffset": {"field": "series", "type": "nominal"}, "y": {"field": "ratio", "type": "quantitative"}, "text": {"field": "label"}}},
  {"data": {"values": [{"label": "*", "treat": "14d RA", "ratio": 2.83}]}, "mark": {"type": "text", "fontSize": 10, "fontWeight": "bold"},
   "encoding": {"x": {"field": "treat", "type": "nominal"}, "y": {"field": "ratio", "type": "quantitative"}, "text": {"field": "label"}}},
  {"data": {"values": [{}]}, "mark": {"type": "text", "text": "BCL2", "fontStyle": "italic", "fontSize": 13.5, "align": "right", "dx": 27.5}, "encoding": {"x": {"datum": "untreated"}, "y": {"datum": 3.44}}},
  {"data": {"values": [{}]}, "mark": {"type": "text", "text": "-expression", "fontSize": 13.5, "align": "left", "dx": 27.5}, "encoding": {"x": {"datum": "untreated"}, "y": {"datum": 3.44}}},
  {"data": {"values": [{}]}, "mark": {"type": "text", "text": "G", "fontSize": 17, "fontWeight": "bold", "dx": -83.5}, "encoding": {"x": {"datum": "untreated"}, "y": {"datum": 3.92}}}
 ]
}
]
}
]
}
